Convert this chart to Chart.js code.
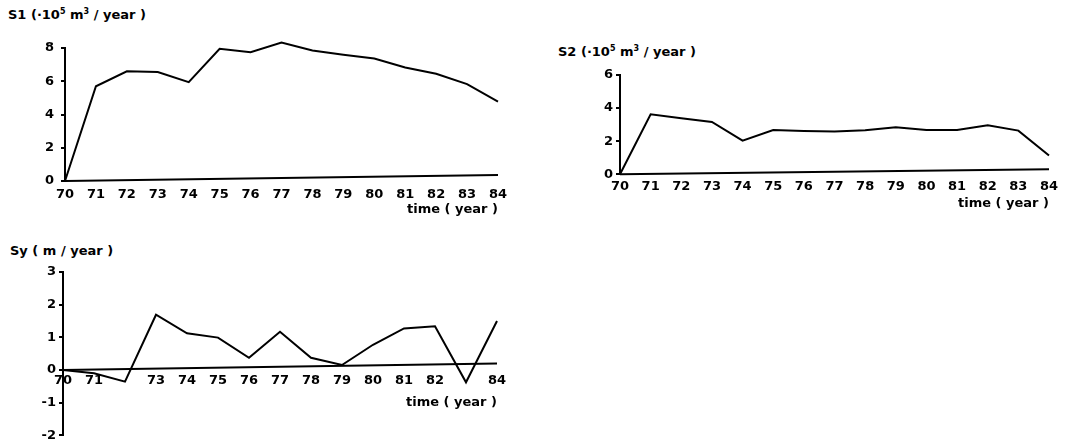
<!DOCTYPE html>
<html>
<head>
<meta charset="utf-8">
<script src="https://cdn.jsdelivr.net/npm/chart.js@4.4.1/dist/chart.umd.min.js"></script>
<style>
  html, body { margin: 0; padding: 0; background: #fff; overflow: hidden; }
  body { width: 1087px; height: 443px; position: relative; font-family: 'DejaVu Sans', sans-serif; }
  canvas { position: absolute; }
  .caption { position: absolute; font-weight: bold; font-size: 13px; line-height: 15px; color: #000; white-space: pre; }
  .caption sup { font-size: 8px; line-height: 0; vertical-align: 5px; }
</style>
</head>
<body>
<div class="caption" style="left:8px; top:7px;">S1 (·10<sup>5</sup> m<sup>3</sup> / year )</div>
<div class="caption" style="left:558px; top:44px;">S2 (·10<sup>5</sup> m<sup>3</sup> / year )</div>
<div class="caption" style="left:10px; top:243px;">Sy ( m / year )</div>

<canvas id="s1Chart" width="540" height="225" style="left:0; top:0;"></canvas>
<canvas id="s2Chart" width="547" height="180" style="left:540px; top:40px;"></canvas>
<canvas id="syChart" width="540" height="216" style="left:0; top:230px;"></canvas>

<script>
// years 1970-1984
const years = [70, 71, 72, 73, 74, 75, 76, 77, 78, 79, 80, 81, 82, 83, 84];

// S1 (10^5 m3/year)
const s1Values = [0, 5.7, 6.6, 6.55, 5.95, 7.95, 7.75, 8.33, 7.85, 7.6, 7.37, 6.83, 6.45, 5.83, 4.78];
// S2 (10^5 m3/year)
const s2Values = [0, 3.63, 3.38, 3.16, 2.03, 2.68, 2.62, 2.58, 2.66, 2.84, 2.68, 2.68, 2.96, 2.64, 1.13];
// Sy (m/year)
const syValues = [0, -0.1, -0.36, 1.69, 1.12, 0.99, 0.37, 1.17, 0.37, 0.15, 0.77, 1.27, 1.34, -0.38, 1.5];

// the hand-drawn time axis runs slightly uphill
const axisEnds = [70, 84];
const s1Axis = [0, 0.36];
const s2Axis = [0, 0.3];
const syAxis = [0, 0.2];

// labelled y ticks (marks at every unit)
const s1Labels = [0, 2, 4, 6, 8];
const s2Labels = [0, 2, 4, 6];
const syLabels = [-2, -1, 0, 1, 2, 3];
// year labels left out where the curve covers them
const syHiddenYears = [72, 83];

Chart.defaults.font = { family: "'DejaVu Sans', sans-serif", size: 13, weight: 'bold' };
Chart.defaults.color = '#000';

function drawPanel(id, values, drift, yMin, yMax, yLabels, hiddenYears, box) {
  const points = years.map((yr, i) => ({ x: yr, y: values[i] }));
  const baseline = axisEnds.map((yr, i) => ({ x: yr, y: drift[i] }));

  return new Chart(document.getElementById(id), {
    type: 'line',
    data: {
      datasets: [
        { data: points, borderColor: '#000', borderWidth: 2, pointRadius: 0, tension: 0, clip: false },
        { data: baseline, borderColor: '#000', borderWidth: 2, pointRadius: 0, clip: false }
      ]
    },
    options: {
      responsive: false,
      animation: false,
      events: [],
      layout: { padding: box.padding },
      plugins: { legend: { display: false }, tooltip: { enabled: false } },
      scales: {
        x: {
          type: 'linear',
          position: box.xPosition,
          min: 70,
          max: 84,
          border: { display: false },
          grid: { display: false },
          ticks: {
            stepSize: 1,
            autoSkip: false,
            maxRotation: 0,
            padding: box.xTickPad,
            callback: v => hiddenYears.includes(v) ? '' : String(v)
          },
          title: {
            display: true,
            text: 'time ( year )',
            align: 'end',
            padding: { top: 0, bottom: box.xTitlePad }
          },
          afterFit: scale => { scale.height = box.xHeight; }
        },
        y: {
          min: yMin,
          max: yMax,
          border: { display: true, color: '#000', width: 2 },
          grid: { drawOnChartArea: false, color: '#000', lineWidth: 2, tickLength: 4 },
          ticks: {
            stepSize: 1,
            padding: box.yTickPad,
            callback: v => yLabels.includes(v) ? String(v) : ''
          },
          afterFit: scale => { scale.width = box.yWidth; }
        }
      }
    }
  });
}

drawPanel('s1Chart', s1Values, s1Axis, 0, 8, s1Labels, [], {
  padding: { left: 30, top: 48, right: 42, bottom: 5 },
  xPosition: 'bottom', xHeight: 39, xTickPad: -2, xTitlePad: 3,
  yWidth: 35, yTickPad: 7
});

drawPanel('s2Chart', s2Values, s2Axis, 0, 6, s2Labels, [], {
  padding: { left: 45, top: 35, right: 38, bottom: 5 },
  xPosition: 'bottom', xHeight: 40.7, xTickPad: -3, xTitlePad: 4,
  yWidth: 35, yTickPad: 3
});

drawPanel('syChart', syValues, syAxis, -2, 3, syLabels, syHiddenYears, {
  padding: { left: 28, top: 42, right: 43, bottom: 8 },
  xPosition: { y: 0 }, xHeight: 40, xTickPad: -5, xTitlePad: -1,
  yWidth: 35, yTickPad: 3
});
</script>
</body>
</html>
